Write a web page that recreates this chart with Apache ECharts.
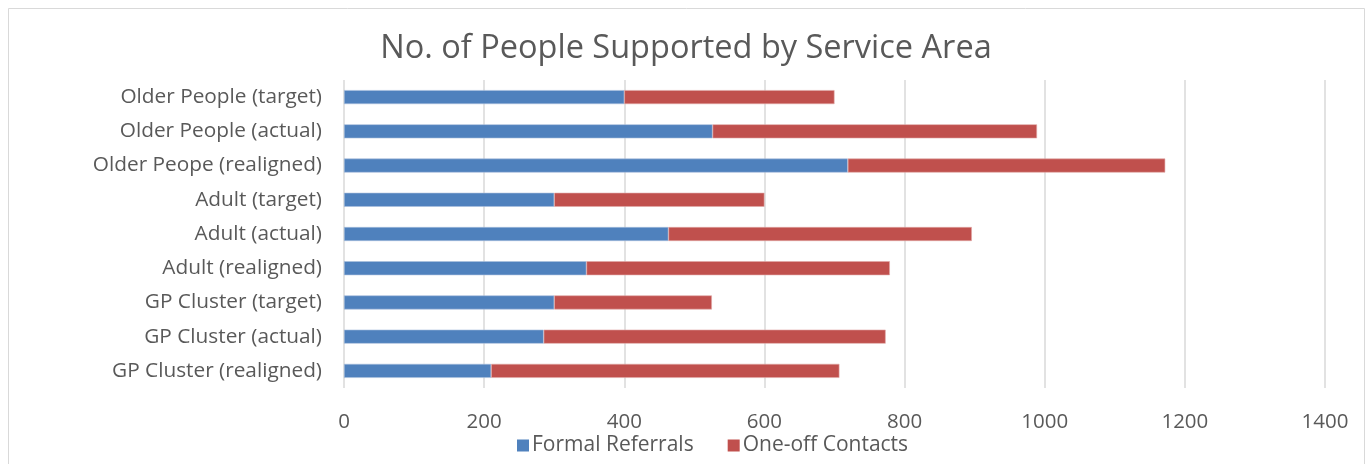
<!DOCTYPE html>
<html><head><meta charset="utf-8">
<script src="https://cdn.jsdelivr.net/npm/echarts@6/dist/echarts.min.js"></script>
<style>html,body{margin:0;padding:0;background:#fff}#c{width:1372px;height:464px}</style>
</head><body><div id="c"></div>
<script>
const categories = ["Older People (target)","Older People (actual)","Older Peope (realigned)","Adult (target)","Adult (actual)","Adult (realigned)","GP Cluster (target)","GP Cluster (actual)","GP Cluster (realigned)"];
const formalReferrals = [400, 526, 719, 300, 463, 346, 300, 285, 210];
const oneOffContacts = [300, 463, 453, 300, 433, 433, 225, 488, 497];
const xTicks = [0, 200, 400, 600, 800, 1000, 1200, 1400];

const FONT = "'Open Sans', sans-serif";
const chart = echarts.init(document.getElementById('c'), null, {renderer: 'canvas'});
chart.setOption({
  animation: false,
  backgroundColor: '#fff',
  graphic: [{type: 'rect', shape: {x: 8.5, y: 8.5, width: 1356, height: 470}, style: {fill: 'none', stroke: '#d9d9d9', lineWidth: 1}, silent: true}],
  title: {text: 'No. of People Supported by Service Area', left: 'center', top: 27,
    textStyle: {fontFamily: FONT, fontSize: 32.5, fontWeight: 'normal', color: '#595959'}},
  legend: {top: 430, left: 512, itemWidth: 12, itemHeight: 12, itemGap: 34, icon: 'rect',
    itemStyle: {borderWidth: 0},
    textStyle: {fontFamily: FONT, fontSize: 21, color: '#595959', padding: [0, 0, 0, -2]}},
  grid: {left: 344, right: 47, top: 80, bottom: 76},
  xAxis: {type: 'value', min: xTicks[0], max: xTicks[xTicks.length - 1], interval: 200,
    axisLine: {show: false}, axisTick: {show: false},
    axisLabel: {fontFamily: FONT, fontSize: 20.5, color: '#595959', margin: 24, formatter: v => String(v)},
    splitLine: {lineStyle: {color: '#d9d9d9', width: 1.5}}},
  yAxis: {type: 'category', data: categories, inverse: true,
    axisLine: {show: false}, axisTick: {show: false},
    axisLabel: {fontFamily: FONT, fontSize: 20.8, color: '#595959', margin: 22}},
  series: [
    {name: 'Formal Referrals', type: 'bar', stack: 's', data: formalReferrals, barWidth: 14,
      itemStyle: {color: '#4f81bd', borderColor: '#a9c0de', borderWidth: 0.6}},
    {name: 'One-off Contacts', type: 'bar', stack: 's', data: oneOffContacts, barWidth: 14,
      itemStyle: {color: '#c0504d', borderColor: '#e0a8a6', borderWidth: 0.6}}
  ]
});
</script></body></html>
